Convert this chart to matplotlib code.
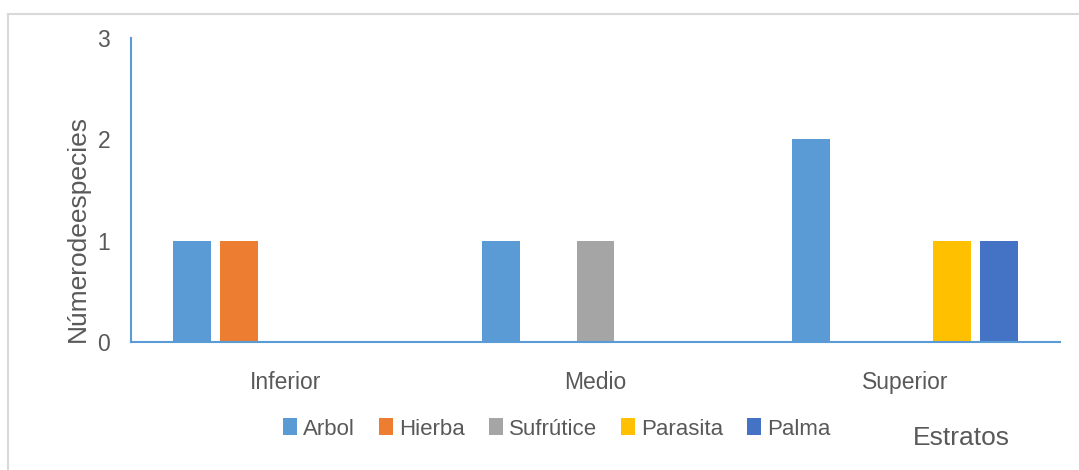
import numpy as np
import matplotlib.pyplot as plt
from matplotlib.patches import Patch
from matplotlib.lines import Line2D

plt.rcParams['font.family'] = ['Liberation Sans', 'DejaVu Sans']

estratos = ['Inferior', 'Medio', 'Superior']
formas = ['Arbol', 'Hierba', 'Sufrútice', 'Parasita', 'Palma']
arbol = [1, 1, 2]
hierba = [1, 0, 0]
sufrutice = [0, 1, 0]
parasita = [0, 0, 1]
palma = [0, 0, 1]
colores = ['#5B9BD5', '#ED7D31', '#A5A5A5', '#FFC000', '#4472C4']

series = [arbol, hierba, sufrutice, parasita, palma]
gris = '#595959'

fig = plt.figure(figsize=(10.79, 4.70), dpi=100)
ax = fig.add_axes([131 / 1079, 1 - 342 / 470, (1060 - 131) / 1079, (342 - 38) / 470])

x = np.arange(len(estratos))
paso = 0.1518
ancho = 0.1227
for i, (vals, col) in enumerate(zip(series, colores)):
    v = np.array(vals, dtype=float)
    mask = v > 0
    ax.bar(x[mask] + (i - 2) * paso, v[mask], width=ancho, color=col, zorder=2)

ax.set_xlim(-0.5, 2.5)
ax.set_ylim(0, 3)
ax.set_yticks([0, 1, 2, 3])
ax.set_xticks(x)
ax.set_xticklabels(estratos)
ax.tick_params(axis='both', length=0, labelsize=16.5, colors=gris)
ax.tick_params(axis='y', pad=15)
ax.tick_params(axis='x', pad=21)
for lado in ['top', 'right']:
    ax.spines[lado].set_visible(False)
for lado in ['left', 'bottom']:
    ax.spines[lado].set_color('#5B9BD5')
    ax.spines[lado].set_linewidth(1.5)

fig.text(78 / 1079, 1 - 228 / 470, 'Númerodeespecies', fontsize=19, color=gris,
         rotation=90, ha='center', va='center')

handles = [Patch(facecolor=c, edgecolor='none') for c in colores]
fig.legend(handles, formas, loc='center left', bbox_to_anchor=(283 / 1079, 1 - 429 / 470),
           ncol=5, frameon=False, fontsize=16, labelcolor=gris,
           handlelength=0.63, handleheight=0.77, handletextpad=0.27, columnspacing=1.08,
           borderpad=0, borderaxespad=0)

fig.text(961 / 1079, 1 - 438 / 470, 'Estratos', fontsize=19, color=gris,
         ha='center', va='center')

# marco del grafico: solo lados superior e izquierdo
fig.add_artist(Line2D([8 / 1079, 1], [1 - 14 / 470] * 2, color='#D9D9D9', lw=1.5))
fig.add_artist(Line2D([8 / 1079] * 2, [0, 1 - 14 / 470], color='#D9D9D9', lw=1.5))

fig.savefig('out.png', dpi=100)
